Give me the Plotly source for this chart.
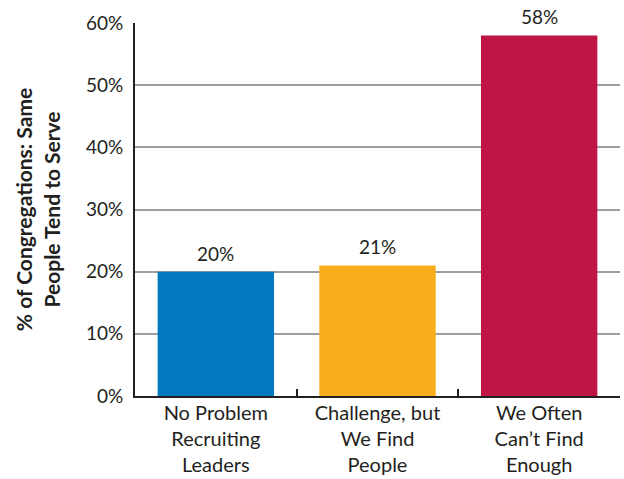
import plotly.graph_objects as go

categories = ["No Problem<br>Recruiting<br>Leaders", "Challenge, but<br>We Find<br>People", "We Often<br>Can’t Find<br>Enough"]
values = [20, 21, 58]
colors = ["#0079c1", "#f9ad1b", "#be1546"]
y_ticks = [0, 10, 20, 30, 40, 50, 60]
y_tick_labels = ["0%", "10%", "20%", "30%", "40%", "50%", "60%"]
y_title = "% of Congregations: Same<br>People Tend to Serve"

FONT = "Lato, 'Open Sans', sans-serif"
TXT = "#231f20"

fig = go.Figure(go.Bar(
    x=categories, y=values,
    marker=dict(color=colors, line=dict(width=0)),
    width=0.72,
))

for c, v in zip(categories, values):
    fig.add_annotation(
        x=c, y=v, text=f"{v}%", showarrow=False,
        xanchor="center", yanchor="bottom", yshift=5,
        font=dict(family=FONT, size=19, color=TXT),
    )

fig.update_layout(
    width=624, height=479,
    margin=dict(l=135, r=4, t=23, b=83),
    paper_bgcolor="white", plot_bgcolor="white",
    showlegend=False,
    font=dict(family=FONT, color=TXT),
    xaxis=dict(
        automargin=False,
        showline=True, linecolor=TXT, linewidth=2,
        ticks="inside", tickson="boundaries", ticklen=7, tickwidth=2, tickcolor=TXT,
        tickfont=dict(family=FONT, size=20, color=TXT),
        ticklabelstandoff=-2,
        showgrid=False,
    ),
    yaxis=dict(
        automargin=False,
        range=[0, 60],
        tickvals=y_ticks, ticktext=y_tick_labels,
        tickfont=dict(family=FONT, size=19, color=TXT),
        showgrid=True, gridcolor="#9d9fa2", gridwidth=2,
        showline=True, linecolor=TXT, linewidth=2,
        zeroline=False,
        ticks="", ticklabelstandoff=6,
        title=dict(text=y_title, font=dict(family=FONT, size=21, color=TXT, weight="bold"), standoff=20),
    ),
)

fig.write_html("out.html", config={"displayModeBar": False},
               post_script="document.body.style.margin='0';")
